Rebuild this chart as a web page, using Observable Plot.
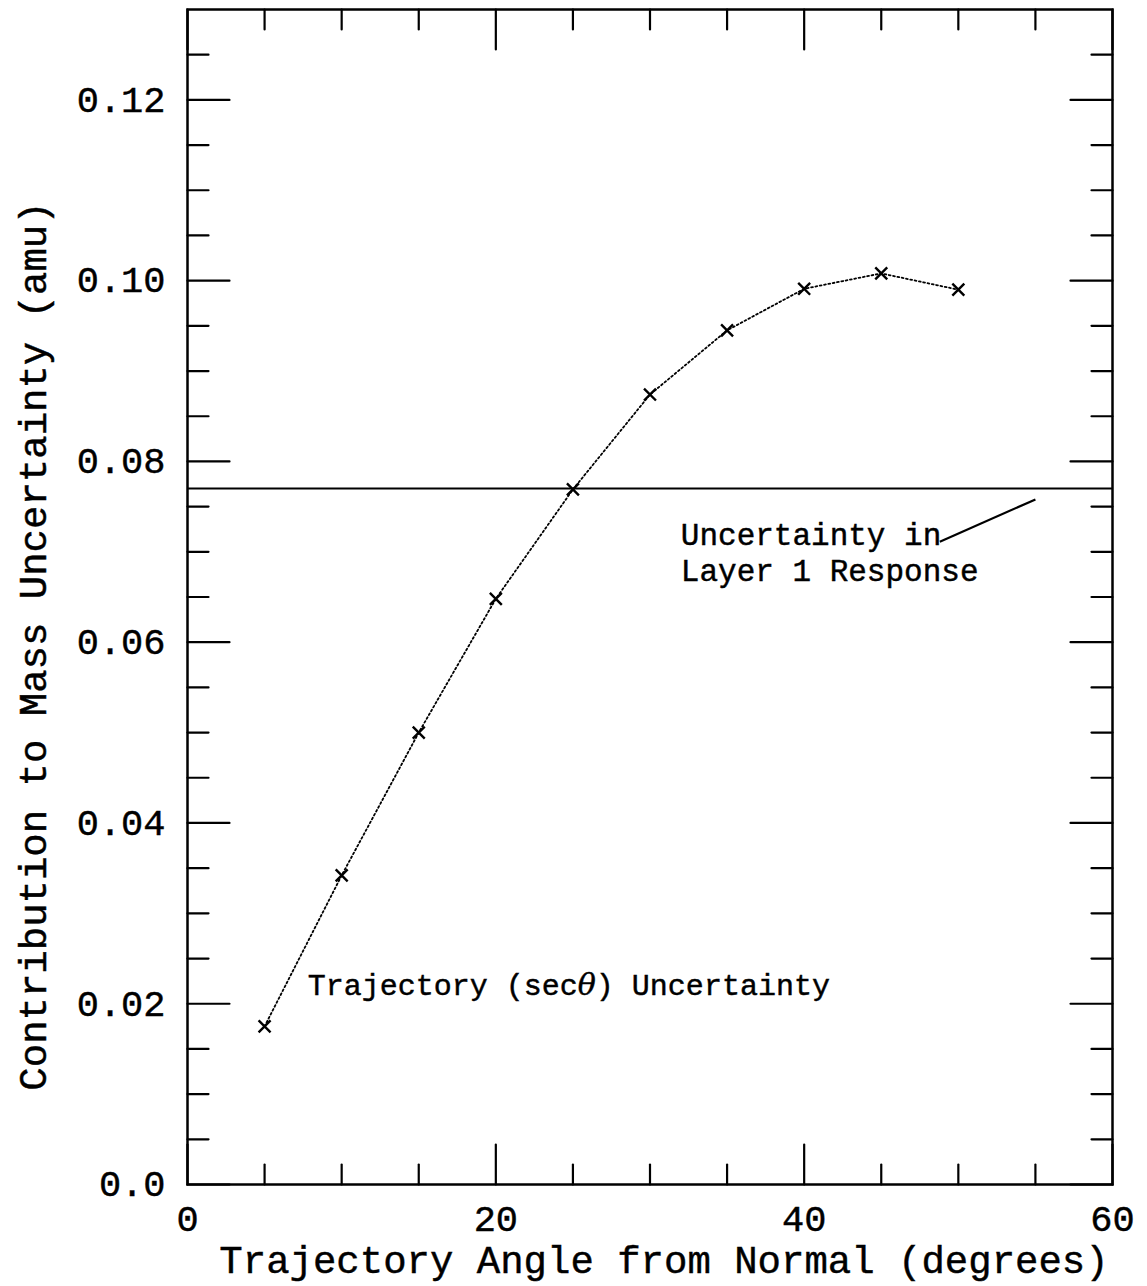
<!DOCTYPE html>
<html>
<head>
<meta charset="utf-8">
<script src="https://cdn.jsdelivr.net/npm/d3@7"></script>
<script src="https://cdn.jsdelivr.net/npm/@observablehq/plot@0.6"></script>
<style>
  html, body { margin: 0; padding: 0; background: #fff; }
  #chart svg { display: block; }
  /* slightly heavier lettering */
  #chart svg text { stroke: black; stroke-width: 0.45px; paint-order: fill; }
</style>
</head>
<body>
<div id="chart"></div>
<script>
// Trajectory-angle contribution to the mass uncertainty
const angles = [5, 10, 15, 20, 25, 30, 35, 40, 45, 50];
const contribution = [0.0175, 0.0342, 0.0500, 0.0648, 0.0769, 0.0874, 0.0945, 0.0991, 0.1008, 0.0990];

// Layer 1 response uncertainty (constant reference level)
const layerLevel = 0.077;

// Axis ticks
const xMajor = [0, 20, 40, 60];
const xMinor = [5, 10, 15, 25, 30, 35, 45, 50, 55];
const yMajor = [0, 0.02, 0.04, 0.06, 0.08, 0.10, 0.12];
const yMinor = [0.005, 0.01, 0.015, 0.025, 0.03, 0.035, 0.045, 0.05, 0.055,
                0.065, 0.07, 0.075, 0.085, 0.09, 0.095, 0.105, 0.11, 0.115, 0.125];
const yTickLabels = ["0.0", "0.02", "0.04", "0.06", "0.08", "0.10", "0.12"];

// Annotations
const layerNote = [
  {x: 32, y: 0.0719, text: "Uncertainty in"},
  {x: 32, y: 0.0679, text: "Layer 1 Response"}
];
const layerLeader = [{x1: 48.8, y1: 0.0711, x2: 55.0, y2: 0.0758}];
const curveNote = [{x: 7.8, y: 0.0220, text: "Trajectory (secθ) Uncertainty"}];

const xLabel = "Trajectory Angle from Normal (degrees)";
const yLabel = "Contribution to Mass Uncertainty (amu)";

const points = angles.map((a, i) => ({angle: a, value: contribution[i]}));
const FONT = "'Liberation Mono', 'DejaVu Sans Mono', monospace";

// a plain stroke used for the inward ticks (drawn upward, then rotated)
const tickShape = {draw(context, l) { context.moveTo(0, 0); context.lineTo(0, -l); }};
const ticks = (data, opts) => Plot.vector(data, {
  shape: tickShape, anchor: "start", stroke: "black", strokeWidth: 2.2, ...opts
});

const chart = Plot.plot({
  width: 1147,
  height: 1286,
  marginLeft: 187,
  marginRight: 35,
  marginTop: 9,
  marginBottom: 102,
  style: {fontFamily: FONT, background: "white", color: "black"},
  x: {domain: [0, 60]},
  y: {domain: [0, 0.13]},
  marks: [
    // tick labels only; tick strokes are drawn inward below
    Plot.axisX(xMajor, {tickSize: 0, tickPadding: 20, fontSize: 37, label: null}),
    Plot.axisY(yMajor, {tickSize: 0, tickPadding: 22, fontSize: 37, label: null,
      tickFormat: (d) => yTickLabels[yMajor.indexOf(d)]}),

    // inward ticks on all four sides
    ticks(yMajor, {x: 0, y: (d) => d, length: 42, rotate: 90}),
    ticks(yMinor, {x: 0, y: (d) => d, length: 21, rotate: 90}),
    ticks(yMajor, {x: 60, y: (d) => d, length: 42, rotate: -90}),
    ticks(yMinor, {x: 60, y: (d) => d, length: 21, rotate: -90}),
    ticks(xMajor, {x: (d) => d, y: 0, length: 40, rotate: 0}),
    ticks(xMinor, {x: (d) => d, y: 0, length: 20, rotate: 0}),
    ticks(xMajor, {x: (d) => d, y: 0.13, length: 40, rotate: 180}),
    ticks(xMinor, {x: (d) => d, y: 0.13, length: 20, rotate: 180}),

    Plot.frame({stroke: "black", strokeWidth: 2.5}),

    // Layer 1 response level
    Plot.ruleY([layerLevel], {x1: 0, x2: 60, stroke: "black", strokeWidth: 2}),
    Plot.link(layerLeader, {x1: "x1", y1: "y1", x2: "x2", y2: "y2", stroke: "black", strokeWidth: 2.2}),
    Plot.text(layerNote, {x: "x", y: "y", text: "text", textAnchor: "start", fontSize: 31, fill: "black"}),

    // trajectory curve (dotted)
    Plot.line(points, {x: "angle", y: "value", stroke: "black", strokeWidth: 1.8, strokeDasharray: "1.8,2.6"}),
    Plot.dot(points, {x: "angle", y: "value", symbol: "times", r: 5.5, stroke: "black", strokeWidth: 2.4}),
    Plot.text(curveNote, {x: "x", y: "y", text: "text", textAnchor: "start", fontSize: 30, fill: "black"}),

    // axis titles
    Plot.text([xLabel], {frameAnchor: "bottom", textAnchor: "middle", lineAnchor: "middle",
      dx: 14, dy: 76, fontSize: 39, fill: "black"}),
    Plot.text([yLabel], {frameAnchor: "left", textAnchor: "middle", lineAnchor: "middle",
      rotate: -90, dx: -154, dy: 49, fontSize: 39, fill: "black"})
  ]
});

// italic theta in the curve annotation
chart.querySelectorAll("text").forEach((t) => {
  if (t.textContent.includes("θ") && t.children.length === 0) {
    const parts = t.textContent.split("θ");
    t.textContent = parts[0];
    const th = document.createElementNS("http://www.w3.org/2000/svg", "tspan");
    th.setAttribute("font-style", "italic");
    th.setAttribute("font-family", "'DejaVu Serif', serif");
    th.textContent = "θ";
    t.appendChild(th);
    t.appendChild(document.createTextNode(parts[1]));
  }
});

document.getElementById("chart").appendChild(chart);
</script>
</body>
</html>
